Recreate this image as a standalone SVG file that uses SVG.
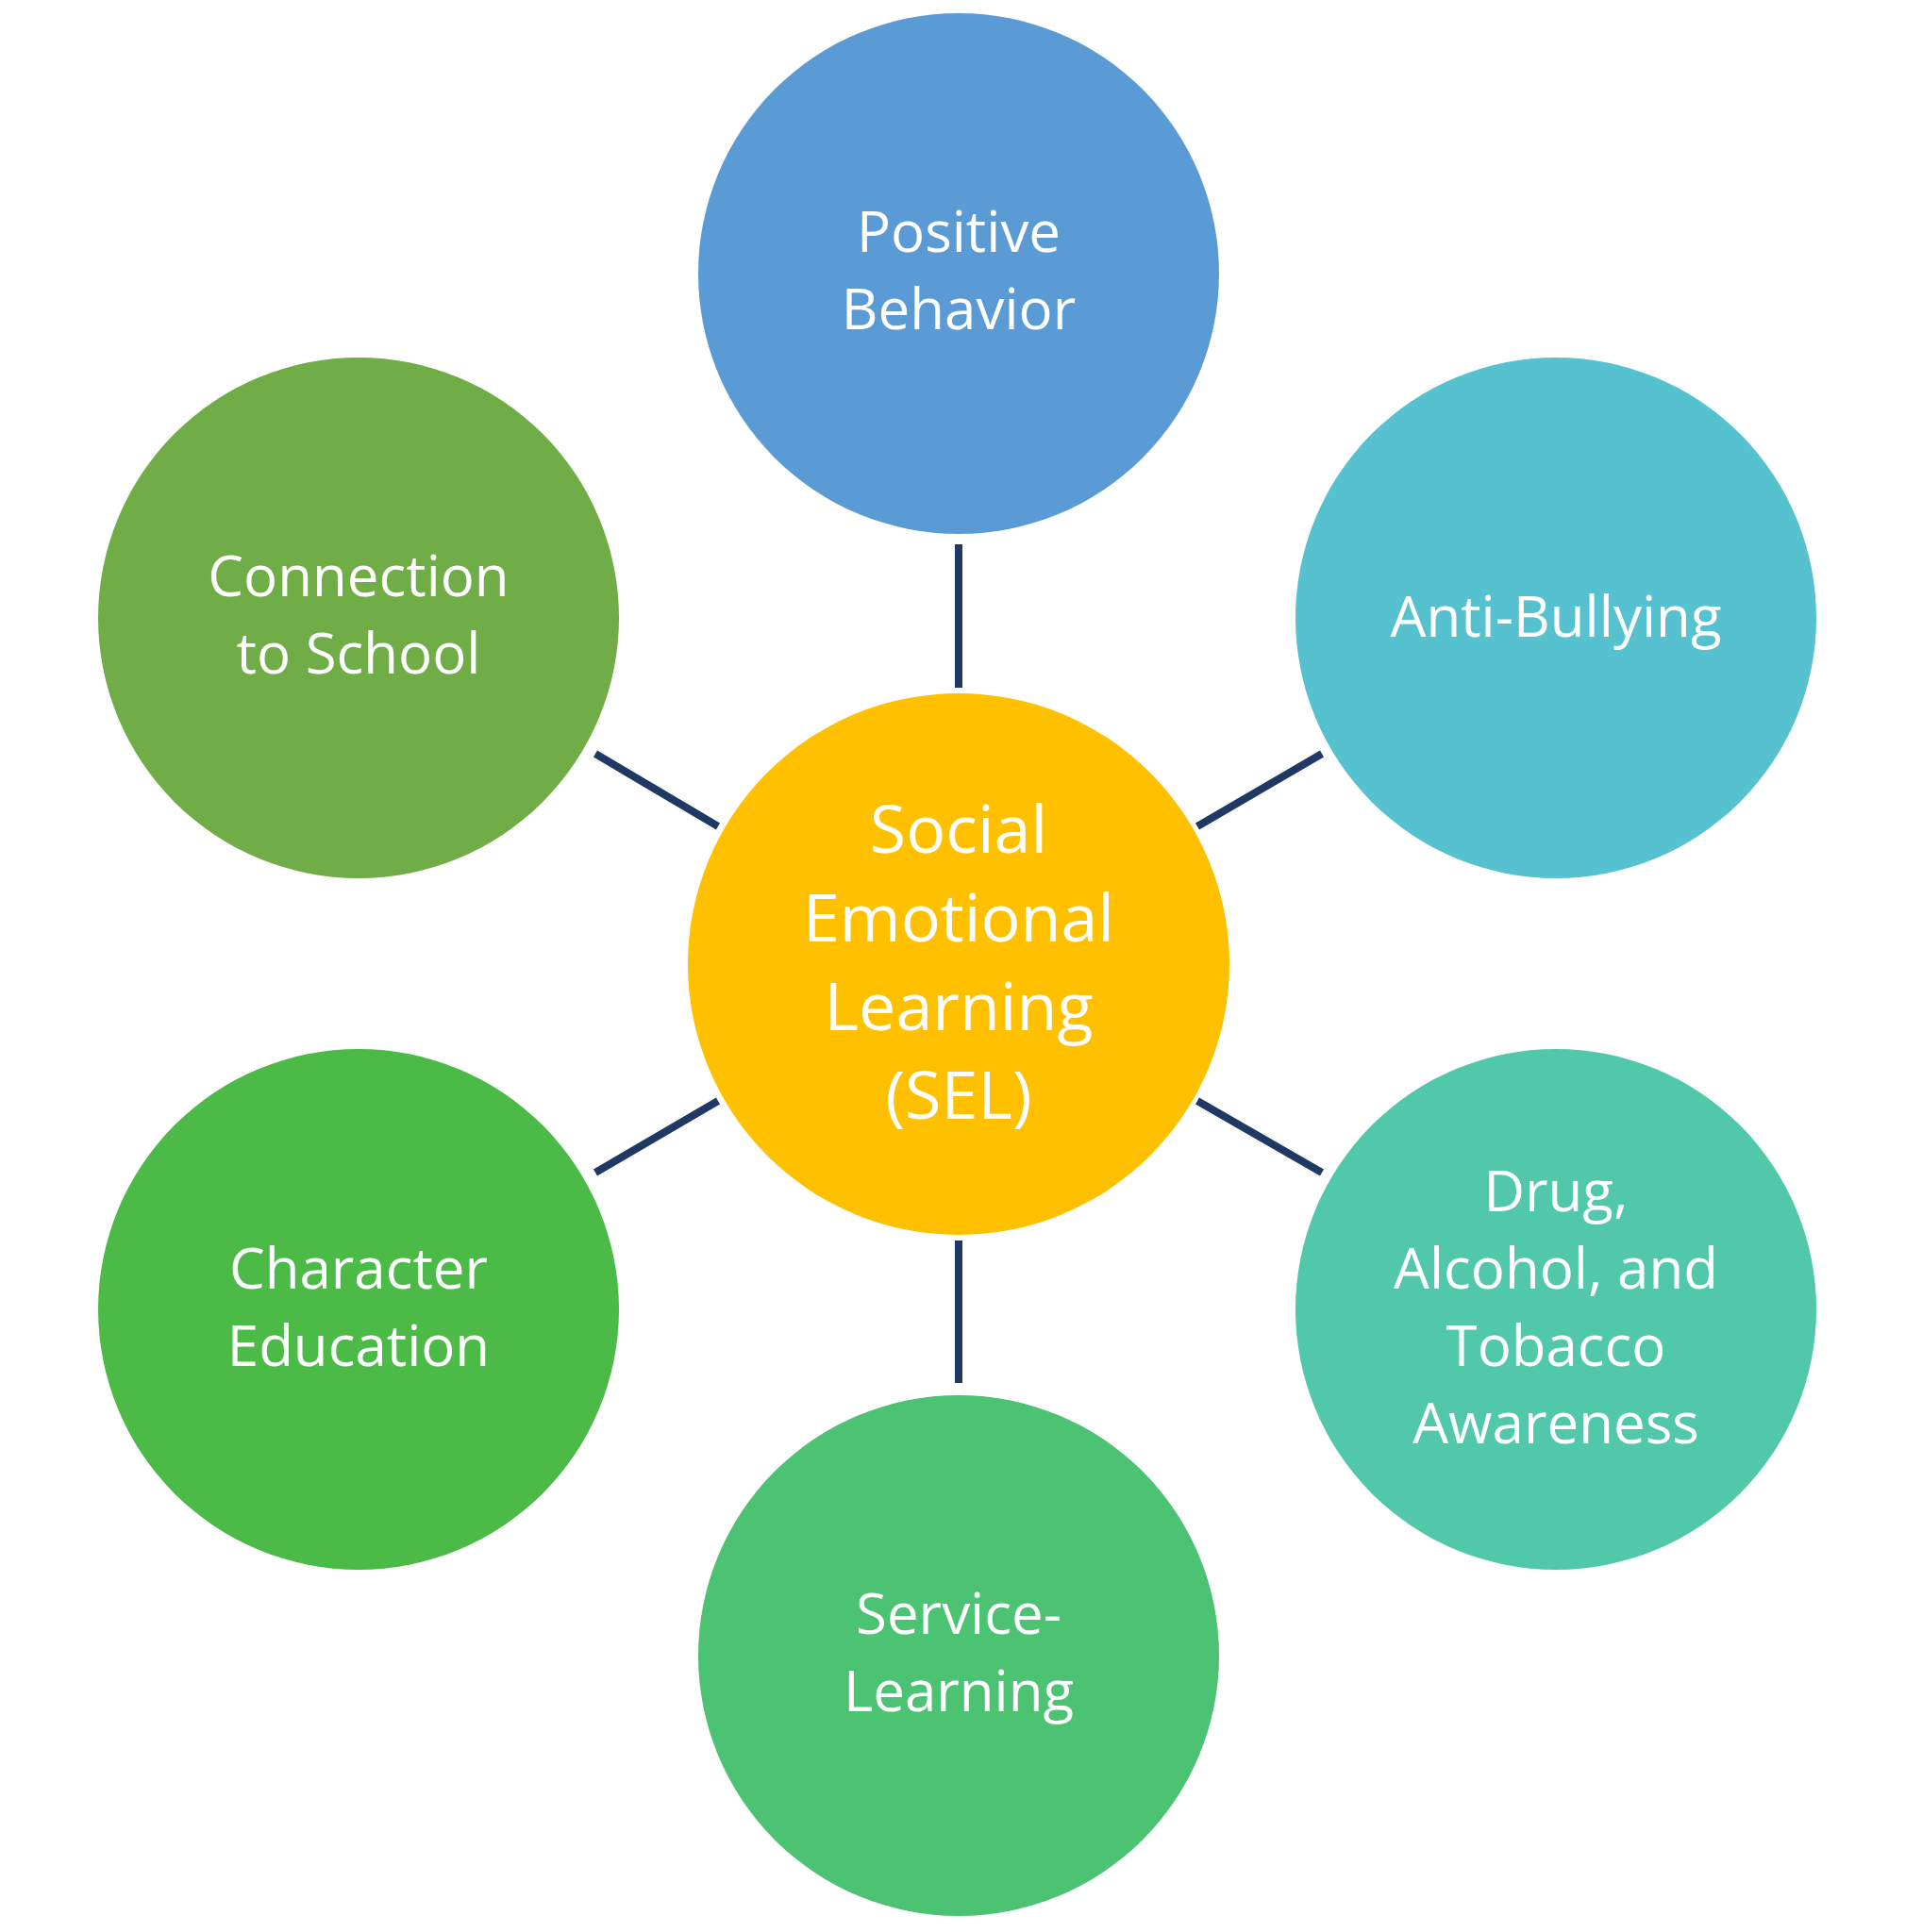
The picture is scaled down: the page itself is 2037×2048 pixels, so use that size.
<svg xmlns="http://www.w3.org/2000/svg" width="2037" height="2048" viewBox="0 0 2037 2048">
<style>
text{font-family:"Open Sans","Noto Sans",sans-serif;fill:#fff;text-anchor:middle;font-size:60px}
.c text{font-size:70px}
line{stroke:#203864;stroke-width:8}
</style>
<rect width="2037" height="2048" fill="#fff"/>
<g id="connectors">
<line x1="1016" y1="577" x2="1016" y2="729"/>
<line x1="1016" y1="1315" x2="1016" y2="1466"/>
<line x1="631" y1="799" x2="761" y2="876"/>
<line x1="1269" y1="876" x2="1401" y2="799"/>
<line x1="631" y1="1243" x2="761" y2="1167"/>
<line x1="1269" y1="1167" x2="1401" y2="1243"/>
</g>
<g id="center" class="c"><circle cx="1016" cy="1022" r="287" fill="#FFC000"/>
<text x="1016" y="904">Social</text><text x="1016" y="998">Emotional</text><text x="1016" y="1092">Learning</text><text x="1016" y="1186">(SEL)</text></g>
<g id="positive"><circle cx="1016" cy="290" r="276" fill="#5B9BD5"/>
<text x="1016" y="267">Positive</text><text x="1016" y="349">Behavior</text></g>
<g id="connection"><circle cx="380" cy="655" r="276" fill="#70AD47"/>
<text x="380" y="632">Connection</text><text x="380" y="714">to School</text></g>
<g id="antibullying"><circle cx="1649" cy="655" r="276" fill="#56C2CF"/>
<text x="1649" y="675">Anti-Bullying</text></g>
<g id="character"><circle cx="380" cy="1388" r="276" fill="#4BBA47"/>
<text x="380" y="1366">Character</text><text x="380" y="1448">Education</text></g>
<g id="drug"><circle cx="1649" cy="1388" r="276" fill="#52C8AA"/>
<text x="1649" y="1284">Drug,</text><text x="1649" y="1366">Alcohol, and</text><text x="1649" y="1448">Tobacco</text><text x="1649" y="1530">Awareness</text></g>
<g id="service"><circle cx="1016" cy="1755" r="276" fill="#4CC273"/>
<text x="1016" y="1732">Service-</text><text x="1016" y="1814">Learning</text></g>
</svg>
